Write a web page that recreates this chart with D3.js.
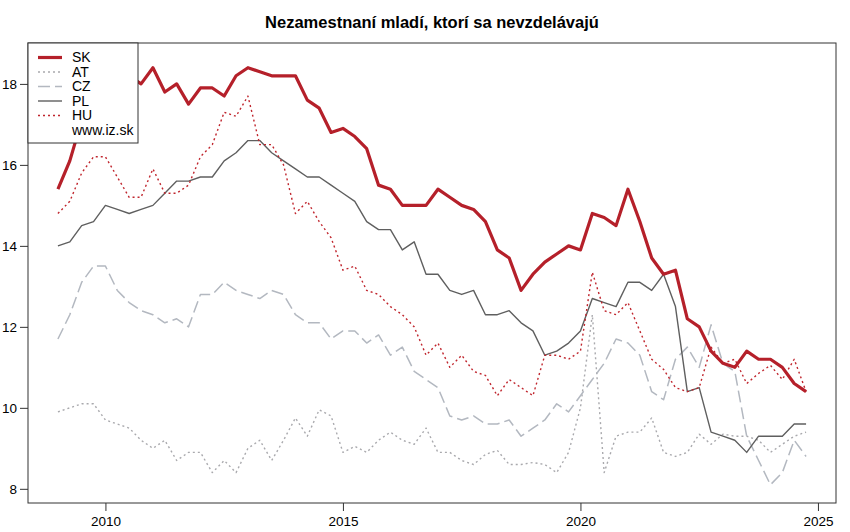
<!DOCTYPE html>
<html>
<head>
<meta charset="utf-8">
<script src="https://cdn.jsdelivr.net/npm/d3@7"></script>
<style>
  body { margin: 0; background: #fff; }
  svg text { font-family: "Liberation Sans", Arial, sans-serif; }
</style>
</head>
<body>
<div id="chart"></div>
<script>
// quarterly data, 2009Q1 .. 2024Q4
const startYear = 2009;
const sk = [15.4,16.1,17.1,17.9,18.3,18.1,18.2,18.0,18.4,17.8,
            18.0,17.5,17.9,17.9,17.7,18.2,18.4,18.3,18.2,18.2,
            18.2,17.6,17.4,16.8,16.9,16.7,16.4,15.5,15.4,15.0,
            15.0,15.0,15.4,15.2,15.0,14.9,14.6,13.9,13.7,12.9,
            13.3,13.6,13.8,14.0,13.9,14.8,14.7,14.5,15.4,14.6,
            13.7,13.3,13.4,12.2,12.0,11.4,11.1,11.0,11.4,11.2,
            11.2,11.0,10.6,10.4];
const at = [9.9,10.0,10.1,10.1,9.7,9.6,9.5,9.2,9.0,9.2,
            8.7,8.9,8.9,8.4,8.7,8.4,9.0,9.2,8.7,9.2,
            9.75,9.3,9.95,9.8,8.9,9.05,8.9,9.2,9.4,9.2,
            9.1,9.5,8.9,8.9,8.7,8.6,8.85,8.95,8.6,8.6,
            8.65,8.6,8.4,8.9,10.0,12.3,8.4,9.3,9.4,9.4,
            9.75,8.9,8.8,8.9,9.35,9.1,9.35,9.3,9.3,9.2,
            8.9,9.1,9.3,9.4];
const cz = [11.7,12.3,13.1,13.5,13.5,12.9,12.6,12.4,12.3,12.1,
            12.2,12.0,12.8,12.8,13.1,12.9,12.8,12.7,12.9,12.8,
            12.3,12.1,12.1,11.7,11.9,11.9,11.6,11.8,11.3,11.5,
            10.9,10.7,10.5,9.8,9.7,9.8,9.6,9.6,9.7,9.3,
            9.5,9.7,10.1,9.9,10.3,10.7,11.1,11.7,11.6,11.3,
            10.4,10.2,11.2,11.5,11.0,12.05,11.1,10.9,9.3,8.7,
            8.1,8.4,9.2,8.8];
const pl = [14.0,14.1,14.5,14.6,15.0,14.9,14.8,14.9,15.0,15.3,
            15.6,15.6,15.7,15.7,16.1,16.3,16.6,16.6,16.3,16.1,
            15.9,15.7,15.7,15.5,15.3,15.1,14.6,14.4,14.4,13.9,
            14.1,13.3,13.3,12.9,12.8,12.9,12.3,12.3,12.4,12.1,
            11.9,11.3,11.4,11.6,11.9,12.7,12.6,12.5,13.1,13.1,
            12.9,13.3,12.5,10.4,10.5,9.4,9.3,9.2,8.9,9.3,
            9.3,9.3,9.6,9.6];
const hu = [14.8,15.1,15.8,16.2,16.2,15.7,15.2,15.2,15.9,15.3,
            15.3,15.5,16.2,16.5,17.3,17.2,17.7,16.5,16.5,16.0,
            14.8,15.1,14.6,14.2,13.4,13.5,12.9,12.8,12.5,12.3,
            12.0,11.3,11.6,11.0,11.3,10.9,10.8,10.3,10.7,10.5,
            10.3,11.3,11.3,11.2,11.4,13.35,12.4,12.3,12.6,11.9,
            11.2,10.95,10.5,10.4,10.5,11.5,11.1,11.2,10.6,10.85,
            11.05,10.7,11.2,10.4];

const xTicks = [2010, 2015, 2020, 2025];
const yTicks = [8, 10, 12, 14, 16, 18];
const title = 'Nezamestnaní mladí, ktorí sa nevzdelávajú';

const series = [
  {name: 'SK', values: sk, color: '#b5202a', width: 3.2, dash: null},
  {name: 'AT', values: at, color: '#a9a9ad', width: 1.4, dash: '2,3'},
  {name: 'CZ', values: cz, color: '#b3b8c0', width: 1.5, dash: '12,5'},
  {name: 'PL', values: pl, color: '#5f5f5f', width: 1.4, dash: null},
  {name: 'HU', values: hu, color: '#c0262e', width: 1.4, dash: '2,3'}
];

const width = 850, height = 532;
const margin = {top: 43, right: 14, bottom: 29, left: 28};

const svg = d3.select('#chart').append('svg')
  .attr('width', width)
  .attr('height', height);

const x = d3.scaleLinear()
  .domain([2008.37, 2025.38])
  .range([margin.left, width - margin.right]);
const y = d3.scaleLinear()
  .domain([7.65, 19.01])
  .range([height - margin.bottom, margin.top]);

const line = d3.line()
  .x((d, i) => x(startYear + i / 4))
  .y(d => y(d));

// lines, drawn so that SK is on top
const drawOrder = ['AT', 'CZ', 'PL', 'HU', 'SK'];
drawOrder.forEach(n => {
  const s = series.find(e => e.name === n);
  svg.append('path')
    .datum(s.values)
    .attr('fill', 'none')
    .attr('stroke', s.color)
    .attr('stroke-width', s.width)
    .attr('stroke-dasharray', s.dash)
    .attr('stroke-linejoin', 'round')
    .attr('d', line);
});

// axes
const xAxis = svg.append('g')
  .attr('transform', `translate(0,${height - margin.bottom})`)
  .call(d3.axisBottom(x).tickValues(xTicks).tickFormat(d3.format('d')).tickSize(8).tickPadding(5));
const yAxis = svg.append('g')
  .attr('transform', `translate(${margin.left},0)`)
  .call(d3.axisLeft(y).tickValues(yTicks).tickSize(8).tickPadding(3));

[xAxis, yAxis].forEach(a => {
  a.select('.domain').remove();
  a.selectAll('line').attr('stroke', '#333');
  a.selectAll('text')
    .attr('fill', '#000')
    .style('font-size', '13.5px');
});
yAxis.selectAll('text').attr('dy', '0.35em');

// frame
svg.append('rect')
  .attr('x', margin.left)
  .attr('y', margin.top)
  .attr('width', width - margin.left - margin.right)
  .attr('height', height - margin.bottom - margin.top)
  .attr('fill', 'none')
  .attr('stroke', '#333')
  .attr('stroke-width', 1);

// title
svg.append('text')
  .attr('x', margin.left + (width - margin.left - margin.right) / 2)
  .attr('y', 28)
  .attr('text-anchor', 'middle')
  .style('font-size', '16.5px')
  .style('font-weight', 'bold')
  .text(title);

// legend
const legend = svg.append('g');
legend.append('rect')
  .attr('x', margin.left)
  .attr('y', margin.top)
  .attr('width', 110)
  .attr('height', 100)
  .attr('fill', '#fff')
  .attr('stroke', '#333');

const rowH = 14.5;
series.forEach((s, i) => {
  const ly = 57.5 + i * rowH;
  legend.append('line')
    .attr('x1', 38).attr('x2', 62)
    .attr('y1', ly).attr('y2', ly)
    .attr('stroke', s.color)
    .attr('stroke-width', s.width)
    .attr('stroke-dasharray', s.dash);
  legend.append('text')
    .attr('x', 72)
    .attr('y', ly)
    .attr('dy', '0.35em')
    .style('font-size', '14px')
    .text(s.name);
});
legend.append('text')
  .attr('x', 72)
  .attr('y', 57.5 + 5 * rowH)
  .attr('dy', '0.35em')
  .style('font-size', '14px')
  .text('www.iz.sk');
</script>
</body>
</html>
